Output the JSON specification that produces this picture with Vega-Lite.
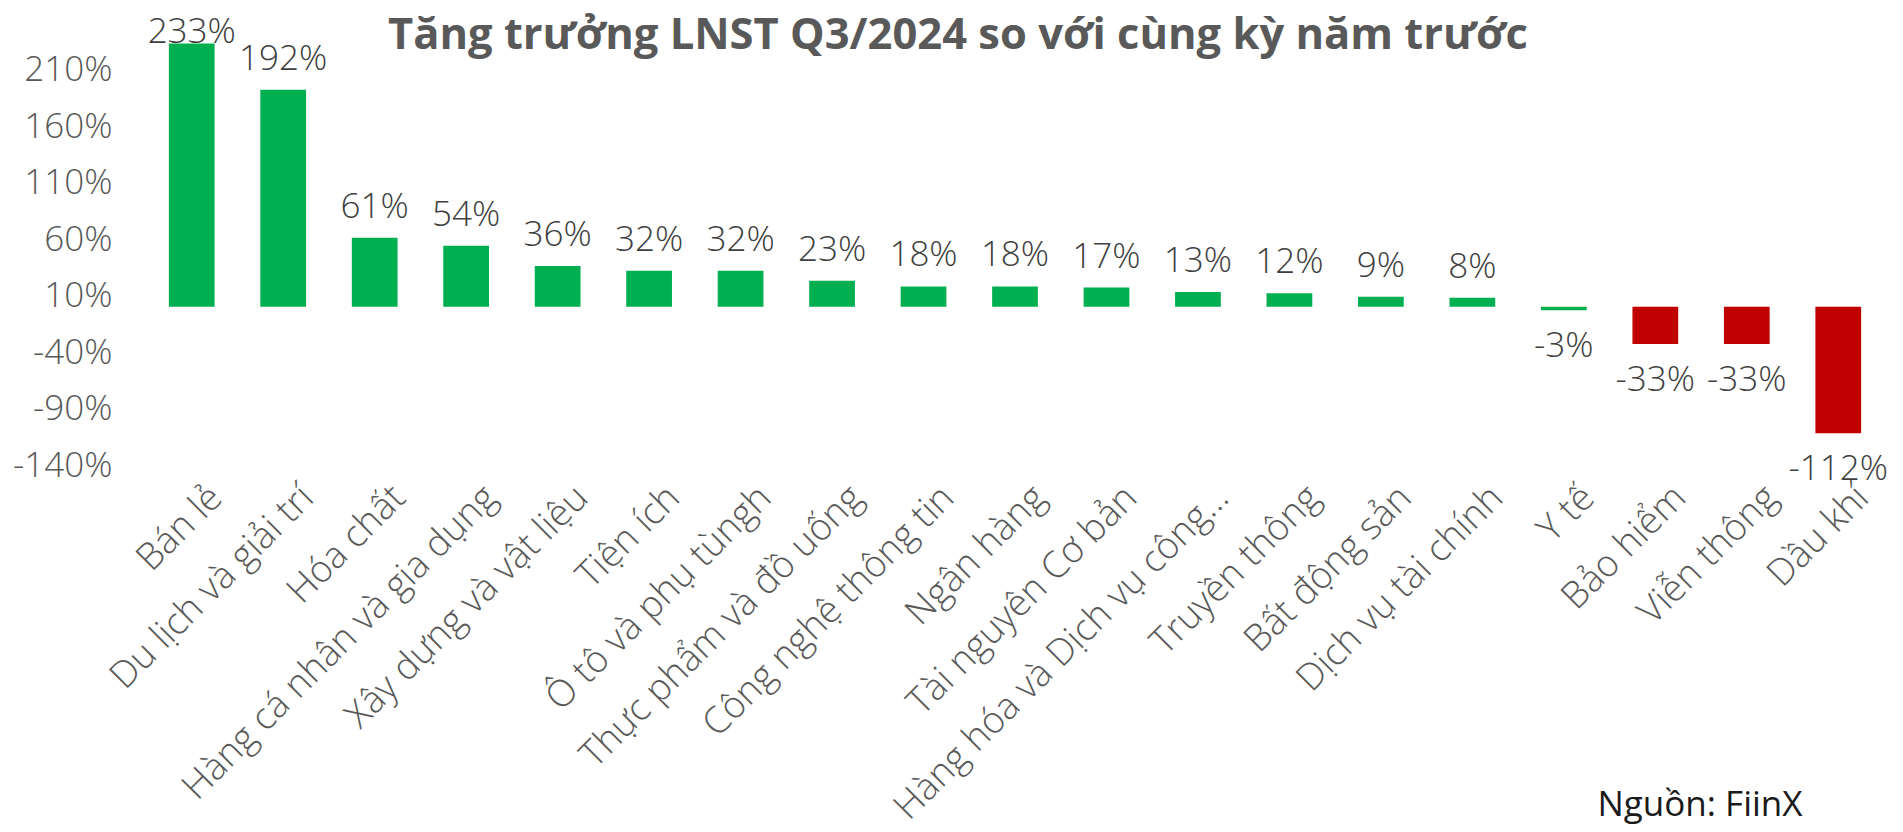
{
  "$schema": "https://vega.github.io/schema/vega-lite/v6.json",
  "autosize": {"type": "none"},
  "width": 1738,
  "height": 452,
  "padding": {"left": 146, "top": 13, "right": 19, "bottom": 367},
  "background": "white",
  "config": {"view": {"stroke": null}, "font": "Open Sans"},
  "title": {
    "text": "Tăng trưởng LNST Q3/2024 so với cùng kỳ năm trước",
    "font": "Open Sans",
    "fontSize": 43.5,
    "fontWeight": "bold",
    "color": "#595959",
    "anchor": "middle",
    "dx": -57,
    "offset": -45
  },
  "data": {
    "values": [
      {"nganh": "Bán lẻ", "v": 233},
      {"nganh": "Du lịch và giải trí", "v": 192},
      {"nganh": "Hóa chất", "v": 61},
      {"nganh": "Hàng cá nhân và gia dụng", "v": 54},
      {"nganh": "Xây dựng và vật liệu", "v": 36},
      {"nganh": "Tiện ích", "v": 32},
      {"nganh": "Ô tô và phụ tùngh", "v": 32},
      {"nganh": "Thực phẩm và đồ uống", "v": 23},
      {"nganh": "Công nghệ thông tin", "v": 18},
      {"nganh": "Ngân hàng", "v": 18},
      {"nganh": "Tài nguyên Cơ bản", "v": 17},
      {"nganh": "Hàng hóa và Dịch vụ công…", "v": 13},
      {"nganh": "Truyền thông", "v": 12},
      {"nganh": "Bất động sản", "v": 9},
      {"nganh": "Dịch vụ tài chính", "v": 8},
      {"nganh": "Y tế", "v": -3},
      {"nganh": "Bảo hiểm", "v": -33},
      {"nganh": "Viễn thông", "v": -33},
      {"nganh": "Dầu khí", "v": -112}
    ]
  },
  "transform": [{"calculate": "datum.v + '%'", "as": "label"}],
  "encoding": {
    "x": {
      "field": "nganh",
      "type": "nominal",
      "sort": null,
      "scale": {"paddingInner": 0.5, "paddingOuter": 0.25},
      "axis": {
        "title": "Nguồn: FiinX",
        "titleFont": "Open Sans",
        "titleFontSize": 35,
        "titleFontWeight": "normal",
        "titleColor": "#1a1a1a",
        "titleAnchor": null,
        "titleAlign": "right",
        "titleBaseline": "alphabetic",
        "titleX": 1656,
        "titleY": 350,
        "domain": false,
        "ticks": false,
        "labelAngle": -45,
        "labelFont": "Open Sans",
        "labelFontSize": 37,
        "labelFontWeight": 300,
        "labelColor": "#595959",
        "labelPadding": 14,
        "labelOffset": 12,
        "labelLimit": 0
      }
    }
  },
  "layer": [
    {
      "mark": {"type": "rule", "color": "#d9d9d9", "strokeWidth": 2},
      "encoding": {
        "y": {"datum": 0, "type": "quantitative", "scale": {"domain": [-140, 260], "nice": false, "zero": false}, "axis": null}
      }
    },
    {
      "mark": {"type": "bar"},
      "encoding": {
        "y": {
          "field": "v",
          "type": "quantitative",
          "scale": {"domain": [-140, 260], "nice": false, "zero": false},
          "axis": {
            "title": null,
            "values": [-140, -90, -40, 10, 60, 110, 160, 210],
            "labelExpr": "datum.value + '%'",
            "grid": false,
            "domain": false,
            "ticks": false,
            "labelFont": "Open Sans",
            "labelFontSize": 35,
            "labelFontWeight": 300,
            "labelColor": "#595959",
            "labelPadding": 34
          }
        },
        "y2": {"datum": 0},
        "color": {
          "condition": {"test": "datum.v < -10", "value": "#C00000"},
          "value": "#00B050"
        }
      }
    },
    {
      "transform": [{"filter": "datum.v >= 0"}],
      "mark": {"type": "text", "baseline": "alphabetic", "dy": -20, "font": "Open Sans", "fontSize": 35, "fontWeight": 300, "color": "#404040"},
      "encoding": {
        "y": {"field": "v", "type": "quantitative", "scale": {"domain": [-140, 216], "range": [452, 49.72], "nice": false, "zero": false, "clamp": true}, "axis": null},
        "text": {"field": "label"}
      }
    },
    {
      "transform": [{"filter": "datum.v < 0"}],
      "mark": {"type": "text", "baseline": "alphabetic", "dy": 47, "font": "Open Sans", "fontSize": 35, "fontWeight": 300, "color": "#404040"},
      "encoding": {
        "y": {"field": "v", "type": "quantitative", "scale": {"domain": [-140, 260], "nice": false, "zero": false}, "axis": null},
        "text": {"field": "label"}
      }
    }
  ],
  "resolve": {"scale": {"y": "independent"}}
}
